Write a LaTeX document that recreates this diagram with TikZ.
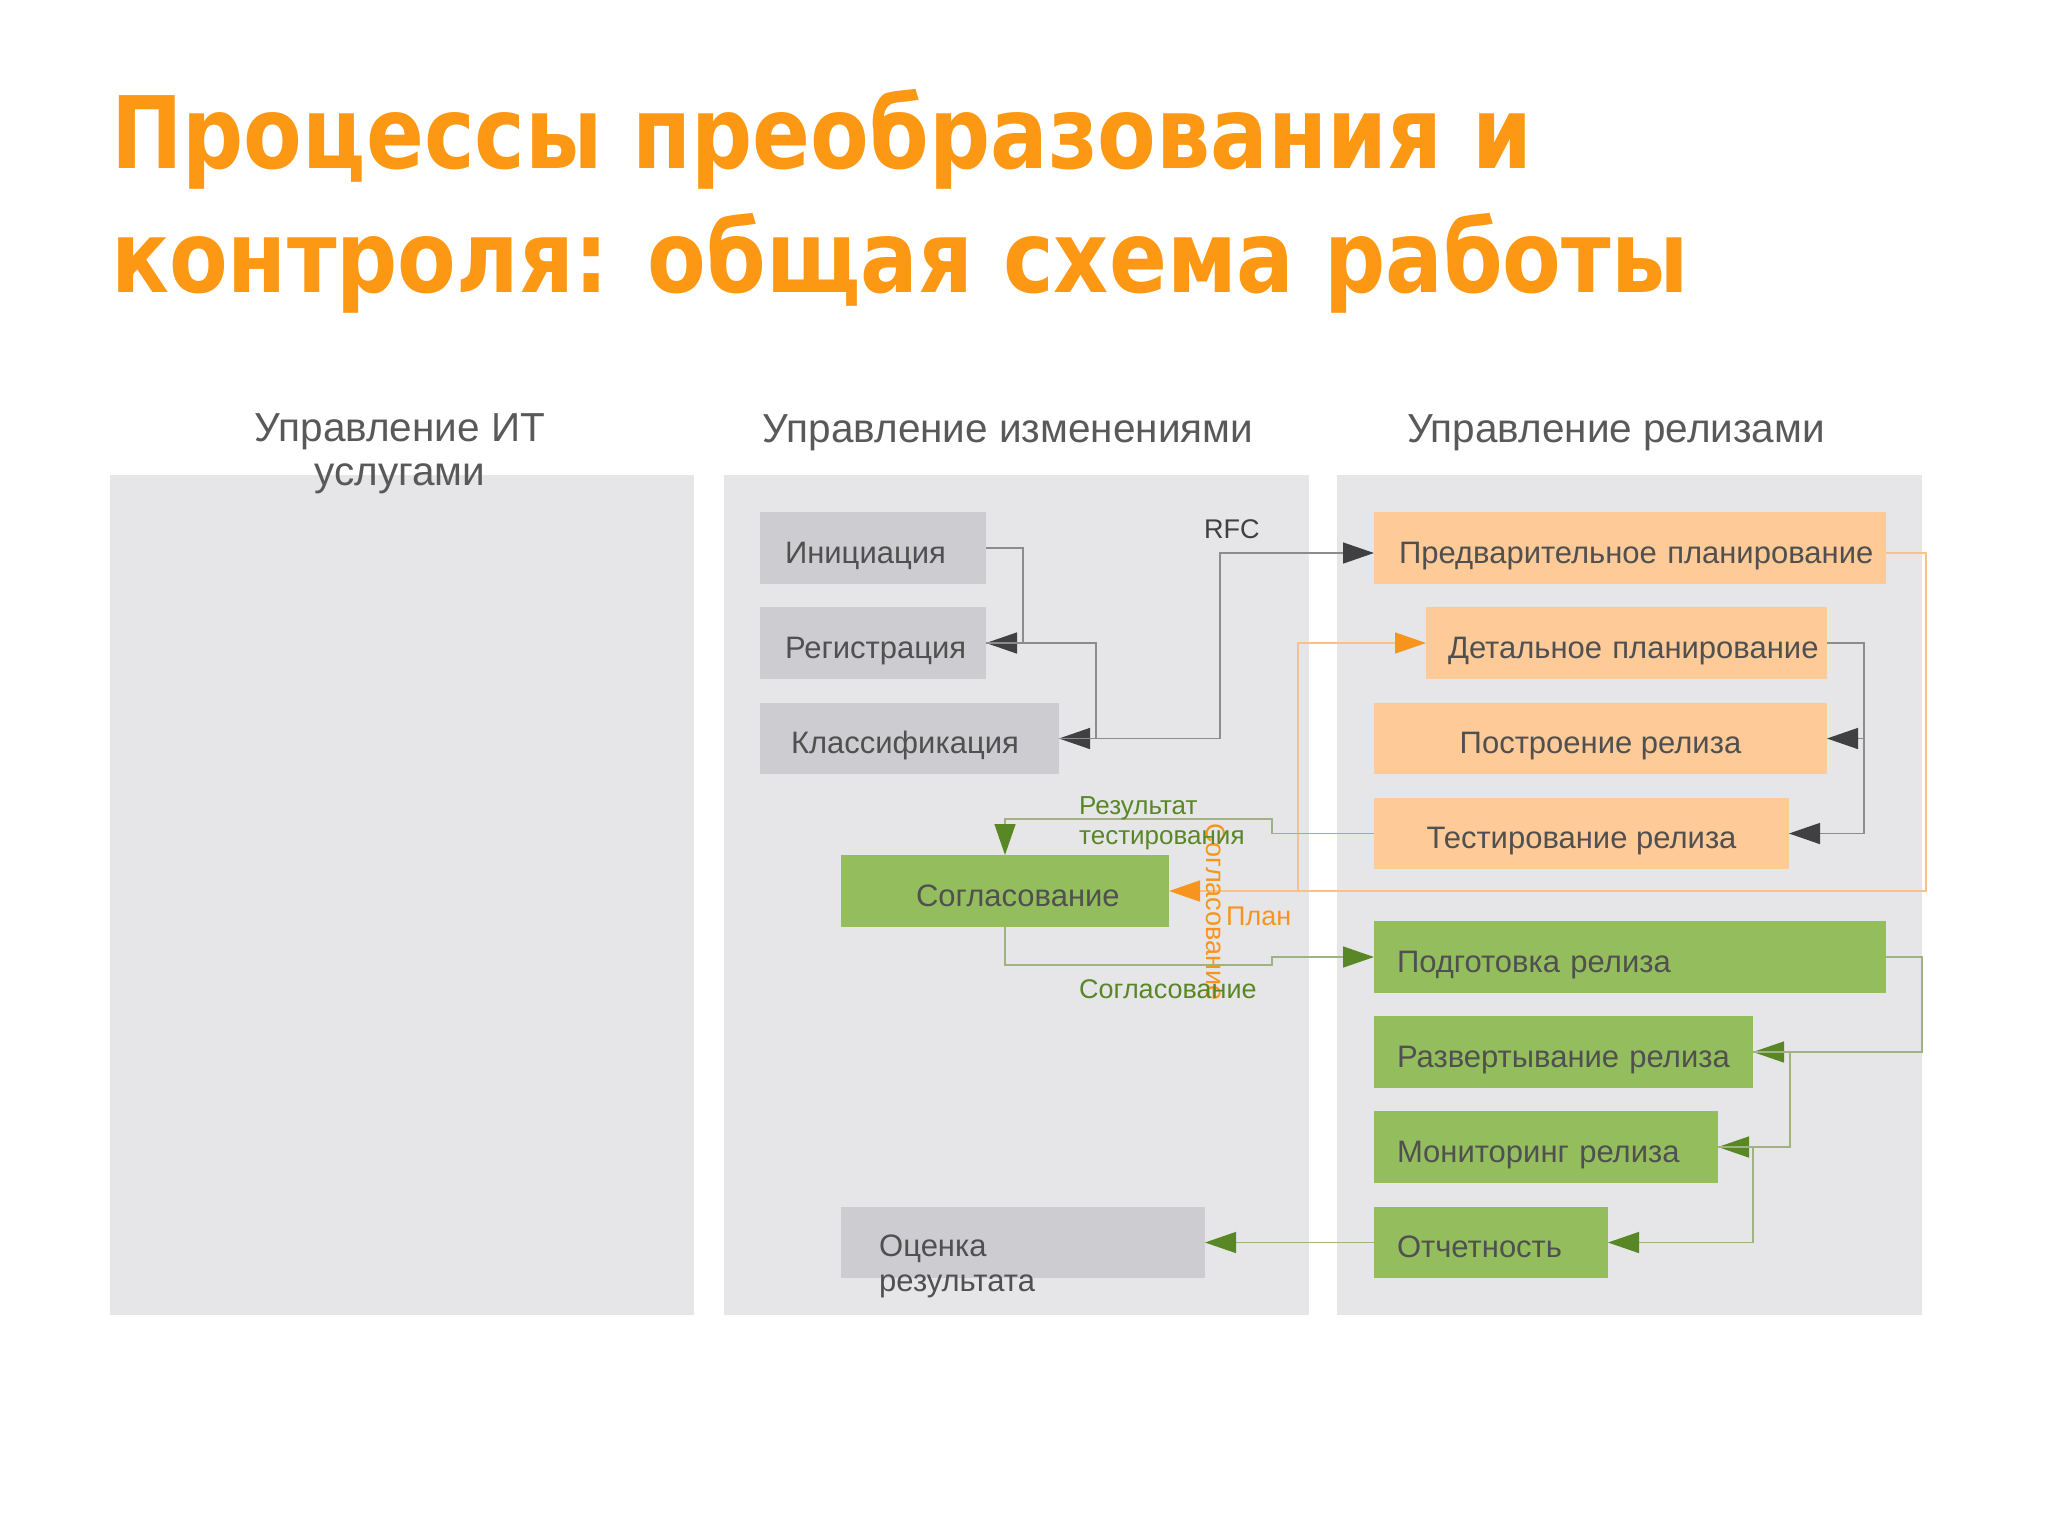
\documentclass[tikz,border=0pt]{standalone}
\usepackage{fontspec}
\setmainfont{Liberation Sans}
\newfontfamily\titlefont{DejaVu Sans}[FakeStretch=0.855]
\usetikzlibrary{arrows.meta,calc}
\definecolor{panelc}{RGB}{230,230,232}
\definecolor{grayc}{RGB}{205,204,208}
\definecolor{orangec}{RGB}{253,202,152}
\definecolor{greenc}{RGB}{148,190,94}
\definecolor{titlec}{RGB}{252,152,20}
\definecolor{headc}{RGB}{89,89,89}
\definecolor{txtc}{RGB}{80,80,80}
\definecolor{dgray}{RGB}{64,64,66}
\definecolor{lgray}{RGB}{140,140,142}
\definecolor{dgreen}{RGB}{90,135,38}
\definecolor{lgreen}{RGB}{160,178,128}
\definecolor{dorange}{RGB}{247,148,29}
\definecolor{lorange}{RGB}{248,192,138}
\begin{document}
\begin{tikzpicture}[x=1pt,y=-1pt,
  boxbase/.style={anchor=north west, inner ysep=0pt, outer sep=0pt, text=txtc,
    font=\fontsize{31}{35}\selectfont, text height=30pt, text depth=0pt},
  graybox/.style={boxbase, fill=grayc},
  orbox/.style={boxbase, fill=orangec},
  grbox/.style={boxbase, fill=greenc},
  lbox/.style n args={4}{minimum width=#1pt, minimum height=#2pt, text width=#3pt, inner xsep=#4pt, align=left},
  cbox/.style 2 args={minimum width=#1pt, minimum height=#2pt, inner xsep=0pt, align=center},
  heading/.style={font=\fontsize{40.5}{44}\selectfont, text=headc, inner sep=0pt},
  grayconn/.style={draw=lgray, line width=1.5pt, -{Triangle[length=31pt,width=21pt,color=dgray]}},
  greenconn/.style={draw=lgreen, line width=1.5pt, -{Triangle[length=31pt,width=21pt,color=dgreen]}},
  orconn/.style={draw=lorange, line width=1.5pt, -{Triangle[length=31pt,width=21pt,color=dorange]}},
  lbl/.style={font=\fontsize{27}{29}\selectfont, inner sep=0pt}
]
\useasboundingbox (0,0) rectangle (2048,1535);
\fill[white] (0,0) rectangle (2048,1535);

% title
\node[anchor=base west, inner sep=0pt, text=titlec, font=\titlefont\bfseries\fontsize{100}{110}\selectfont] (t1) at (111,168) {Процессы преобразования и};
\node[anchor=base west, inner sep=0pt, text=titlec, font=\titlefont\bfseries\fontsize{100}{110}\selectfont] (t2) at (111,292) {контроля: общая схема работы};

% panels
\fill[panelc] (110,475) rectangle (694,1315);
\fill[panelc] (724,475) rectangle (1309,1315);
\fill[panelc] (1337,475) rectangle (1922,1315);

% headings
\node[heading, anchor=north, align=center] (h1) at (400,413) {Управление~ИТ\\услугами};
\node[heading, anchor=base] (h2) at (1008,442) {Управление изменениями};
\node[heading, anchor=base] (h3) at (1616,442) {Управление релизами};

% change management boxes
\node[graybox, lbox={226}{72}{176}{25}] (ini) at (760,512) {Инициация};
\node[graybox, lbox={226}{72}{176}{25}] (reg) at (760,607) {Регистрация};
\node[graybox, lbox={299}{71}{237}{31}] (cls) at (760,703) {Классификация};
\node[grbox, lbox={328}{72}{178}{75}] (sog) at (841,855) {Согласование};
\node[graybox, minimum width=364pt, minimum height=71pt, inner xsep=0pt] (oc) at (841,1207) {};
\node[anchor=north west, inner sep=0pt, align=left, text=txtc, font=\fontsize{31}{35}\selectfont] (octxt) at (879,1235) {Оценка\\результата};

% release management boxes
\node[orbox, lbox={512}{72}{462}{25}] (pre) at (1374,512) {Предварительное~планирование};
\node[orbox, lbox={401}{72}{357}{22}] (det) at (1426,607) {Детальное~планирование};
\node[orbox, cbox={453}{71}] (bld) at (1374,703) {Построение релиза};
\node[orbox, cbox={415}{71}] (tst) at (1374,798) {Тестирование релиза};
\node[grbox, lbox={512}{72}{466}{23}] (prep) at (1374,921) {Подготовка~релиза};
\node[grbox, lbox={379}{72}{333}{23}] (dep) at (1374,1016) {Развертывание~релиза};
\node[grbox, lbox={344}{72}{298}{23}] (mon) at (1374,1111) {Мониторинг~релиза};
\node[grbox, lbox={234}{71}{188}{23}] (rep) at (1374,1207) {Отчетность};

% gray connectors
\draw[grayconn] (ini.east) -- (1023,548) -- (1023,643) -- (reg.east);
\draw[grayconn] (reg.east) -- (1096,643) -- (1096,738.5) -- (cls.east);
\draw[grayconn] (cls.east) -- (1220,738.5) -- (1220,553) -- ($(pre.west)+(0,5)$);
\node[lbl, anchor=base west, text=dgray] (rfc) at (1204,538) {RFC};
\draw[grayconn] (det.east) -- (1864,643) -- (1864,738.5) -- (bld.east);
\draw[grayconn] (1864,738.5) -- (1864,833.5) -- (tst.east);

% orange connectors
\coordinate (obr) at (1298,891);
\draw[orconn] ($(pre.east)+(0,5)$) -- (1926,553) -- (1926,891) -- (sog.east);
\draw[orconn] (obr) -- (1298,643) -- (det.west);
\node[lbl, anchor=base west, text=dorange] (plan) at (1226,925) {План};
\node[lbl, rotate=-90, text=dorange] (sogv) at (1216,912) {Согласование};

% green connectors
\draw[greenconn] (tst.west) -- (1272,833.5) -- (1272,819) -- (1005,819) -- (sog.north);
\node[anchor=north west, inner sep=0pt, align=left, text=dgreen, font=\fontsize{26}{30}\selectfont] (restest) at (1079,796) {Результат\\тестирования};
\draw[greenconn] (sog.south) -- (1005,965) -- (1272,965) -- (1272,957) -- (prep.west);
\node[lbl, anchor=base west, text=dgreen] (sogl) at (1079,998) {Согласование};
\draw[greenconn] (prep.east) -- (1922,957) -- (1922,1052) -- (dep.east);
\draw[greenconn] (dep.east) -- (1790,1052) -- (1790,1147) -- (mon.east);
\draw[greenconn] (mon.east) -- (1753,1147) -- (1753,1242.5) -- (rep.east);
\draw[greenconn] (rep.west) -- (oc.east);
\end{tikzpicture}
\end{document}
